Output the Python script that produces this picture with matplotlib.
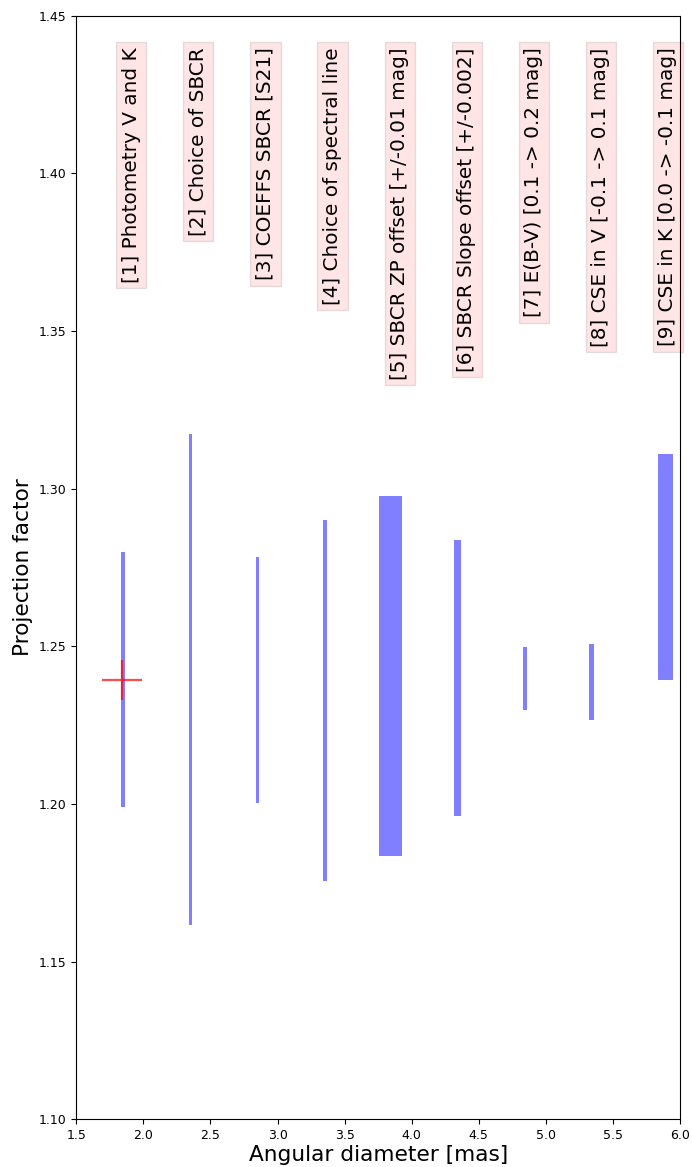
import matplotlib
matplotlib.use("Agg")
import matplotlib.pyplot as plt
import numpy as np

# Data
labels = [
    "[1] Photometry V and K",
    "[2] Choice of SBCR",
    "[3] COEFFS SBCR [S21]",
    "[4] Choice of spectral line",
    "[5] SBCR ZP offset [+/-0.01 mag]",
    "[6] SBCR Slope offset [+/-0.002]",
    "[7] E(B-V) [0.1 -> 0.2 mag]",
    "[8] CSE in V [-0.1 -> 0.1 mag]",
    "[9] CSE in K [0.0 -> -0.1 mag]",
]
x_left = [1.833, 2.340, 2.837, 3.339, 3.756, 4.315, 4.829, 5.322, 5.836]
x_right = [1.863, 2.362, 2.862, 3.369, 3.928, 4.367, 4.859, 5.358, 5.948]
p_low = [1.1991, 1.1616, 1.2004, 1.1756, 1.1835, 1.1962, 1.2298, 1.2266, 1.2393]
p_high = [1.2799, 1.3173, 1.2783, 1.2900, 1.2977, 1.2837, 1.2498, 1.2507, 1.3110]
ref_diam = [1.838]
ref_p = [1.2393]

W, H = 692, 1167
fig = plt.figure(figsize=(W / 100, H / 100), dpi=100)
ax = fig.add_axes([76.3 / W, 1 - 1119.3 / H, (680 - 76.3) / W, (1119.3 - 15.7) / H])

xl = np.array(x_left)
xr = np.array(x_right)
lo = np.array(p_low)
hi = np.array(p_high)
ax.bar(xl, hi - lo, width=xr - xl, bottom=lo, align="edge",
       color="blue", alpha=0.5, linewidth=0)

ax.plot(ref_diam, ref_p, marker="+", color="red", alpha=0.7,
        markersize=29, markeredgewidth=1.6, linestyle="none")

label_x = 1.91 + 0.5 * np.arange(len(labels))
for lx, txt in zip(label_x, labels):
    ax.text(lx, 1.44, txt, rotation=90, ha="center", va="top", fontsize=14.4,
            bbox=dict(facecolor="red", alpha=0.1))

ax.set_xlim(1.5, 6.0)
ax.set_ylim(1.10, 1.45)
ax.set_xlabel("Angular diameter [mas]", fontsize=15.6, labelpad=2)
ax.set_ylabel("Projection factor", fontsize=15.6)
ax.tick_params(labelsize=9)

fig.savefig("out.png", dpi=100)
